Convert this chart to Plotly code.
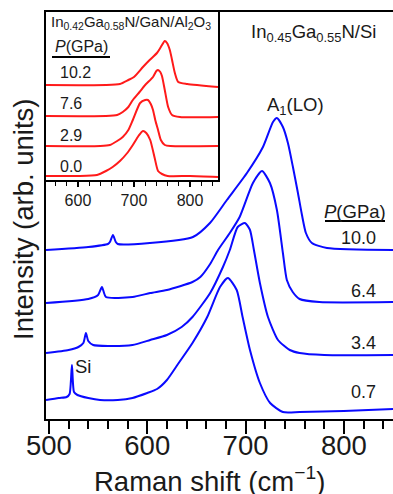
import plotly.graph_objects as go

# ---------------- main spectra: In0.45Ga0.55N/Si (blue) ----------------
x_07 = [497, 510, 518, 521, 523.4, 525.5, 529, 540, 552, 570, 585, 600, 610, 620, 632, 646, 661, 674, 682, 691, 697, 704.5, 714.6, 725, 738, 755, 800, 850]
y_07 = [19, 21, 22, 25, 54, 27, 24, 21, 19, 19, 21, 26, 30, 39, 56, 76, 102, 132, 141, 129, 102, 69, 36, 16, 7, 7, 8, 10]

x_34 = [497, 520, 530, 535, 537.6, 540, 545, 560, 585, 603, 620, 635, 646, 664, 677, 684, 692, 699.4, 704.5, 708.5, 714.6, 722.8, 733, 745, 755, 780, 850]
y_34 = [66, 69, 72, 76, 86, 78, 74, 73, 74, 79, 84, 92, 102, 126, 152, 169, 192, 196, 189, 169, 136, 102, 79, 69, 66, 64, 64]

x_64 = [497, 540, 550, 553.9, 558, 585, 603, 620, 646, 654, 664, 672, 684, 694, 707.5, 716.7, 724.8, 731.9, 738, 742, 748, 755, 775, 850]
y_64 = [116, 120, 124, 132, 122, 122, 126, 129, 137, 142, 155, 169, 186, 202, 236, 248, 236, 209, 166, 139, 127, 120, 117, 117]

x_100 = [497, 540, 560, 562, 565.1, 568, 570, 602.7, 646.5, 663.8, 681, 701.4, 717.7, 727.9, 731.9, 738, 743.1, 748.2, 753.3, 757.4, 761.4, 767.5, 782.8, 850]
y_100 = [169, 172, 175, 177, 184, 177, 175, 176, 182, 196, 219, 246, 272, 297, 301, 292, 276, 252, 226, 204, 186, 176, 171, 169]

main_x = [x_07, x_34, x_64, x_100]
main_y = [y_07, y_34, y_64, y_100]
main_labels = ["0.7", "3.4", "6.4", "10.0"]

# ---------------- inset spectra: In0.42Ga0.58N/GaN/Al2O3 (red) ----------------
xi_00 = [543, 600, 634, 650, 662, 675, 688, 698, 708, 716, 722, 729, 737, 743, 750, 760, 800, 850]
yi_00 = [4, 4, 5, 9, 13, 19, 27, 35, 44, 49, 47, 40, 22, 9, 6, 4, 4, 3]

xi_29 = [543, 640, 657, 670, 680, 690, 698, 711, 720, 725, 730, 734, 738, 743, 748, 755, 765, 850]
yi_29 = [34, 34, 35, 39, 43, 50, 60, 77, 80, 80, 76, 70, 60, 50, 40, 35, 34, 34]

xi_76 = [543, 650, 670, 680, 690, 698, 710, 720, 734, 740, 743, 747, 750, 755, 761, 768, 782, 850]
yi_76 = [64, 64, 65, 68, 73, 80, 88, 95, 103, 109, 110, 108, 104, 90, 73, 65, 63, 63]

xi_102 = [543, 650, 675, 690, 700, 716, 728, 741, 748, 755, 759, 764, 768, 773, 779, 795, 850]
yi_102 = [95, 95, 96, 100, 103, 113, 120, 127, 133, 139, 137, 130, 120, 107, 98, 96, 93]

inset_x = [xi_00, xi_29, xi_76, xi_102]
inset_y = [yi_00, yi_29, yi_76, yi_102]
inset_labels = ["0.0", "2.9", "7.6", "10.2"]

BLUE = "#0a0aff"
RED = "#ff1a1a"
FONT = "Liberation Sans, Arial, Helvetica, sans-serif"

fig = go.Figure()
for xs, ys in zip(main_x, main_y):
    fig.add_trace(go.Scatter(x=xs, y=ys, mode="lines",
                             line=dict(color=BLUE, width=2, shape="spline", smoothing=0.6),
                             xaxis="x", yaxis="y", showlegend=False, hoverinfo="skip"))
for xs, ys in zip(inset_x, inset_y):
    fig.add_trace(go.Scatter(x=xs, y=ys, mode="lines",
                             line=dict(color=RED, width=2, shape="spline", smoothing=0.6),
                             xaxis="x2", yaxis="y2", showlegend=False, hoverinfo="skip"))

W, H = 393, 494
L, R, T, B = 46, 0, 12, 75
pw, ph = W - L - R, H - T - B


def px(xp):
    return (xp - L) / pw


def py(yp):
    return (H - B - yp) / ph


inset_right = 218
inset_bottom = 180

fig.update_layout(
    width=W, height=H,
    margin=dict(l=L, r=R, t=T, b=B),
    paper_bgcolor="white", plot_bgcolor="white",
    font=dict(family=FONT, color="#1a1a1a"),
    xaxis=dict(range=[497, 850], domain=[0, 1], showgrid=False, zeroline=False,
               showline=True, linewidth=2, linecolor="black", mirror=True,
               ticks="outside", ticklen=13, tickwidth=2, tickcolor="black",
               ticklabelstandoff=-12,
               tickvals=[500, 600, 700, 800], tickfont=dict(size=27.5, family=FONT),
               minor=dict(dtick=20, ticklen=8, tickwidth=1.6, tickcolor="black", ticks="outside")),
    yaxis=dict(range=[0, 407], domain=[0, 1], showgrid=False, zeroline=False,
               showline=True, linewidth=2, linecolor="black", mirror=False,
               showticklabels=False, ticks=""),
    xaxis2=dict(range=[543, 850], domain=[0, px(inset_right)], anchor="y2",
                showgrid=False, zeroline=False, showline=True, linewidth=2,
                linecolor="black", mirror=True, ticks="outside", ticklen=5, tickwidth=1.5,
                tickcolor="black", tickvals=[600, 700, 800],
                tickfont=dict(size=16, family=FONT),
                minor=dict(dtick=20, ticklen=4, tickwidth=1.3, tickcolor="black", ticks="outside")),
    yaxis2=dict(range=[0, 168], domain=[py(inset_bottom), 1], anchor="x2",
                showgrid=False, zeroline=False, showline=True, linewidth=2,
                linecolor="black", mirror=True, showticklabels=False, ticks=""),
)

ann = []


def add(text, x, y, size, xanchor="center", yanchor="middle", angle=0):
    ann.append(dict(text=text, x=px(x), y=py(y), xref="paper", yref="paper",
                    xanchor=xanchor, yanchor=yanchor, showarrow=False, textangle=angle,
                    font=dict(size=size, family=FONT, color="#1a1a1a")))


add("Raman shift (cm<sup>−1</sup>)", 209, 479, 27.5)
add("Intensity (arb. units)", 23, 220, 27.5, angle=-90)
add("In<sub>0.45</sub>Ga<sub>0.55</sub>N/Si", 313, 33, 18.5)
add("A<sub>1</sub>(LO)", 295, 106, 18.5)
add("Si", 83, 366, 18.5)
add("<i>P</i>(GPa)", 355, 212, 18.5)
main_label_y = [392, 343, 291, 238]
for lab, yy in zip(main_labels, main_label_y):
    add(lab, 378, yy, 18, xanchor="right")

add("In<sub>0.42</sub>Ga<sub>0.58</sub>N/GaN/Al<sub>2</sub>O<sub>3</sub>", 49, 23, 15, xanchor="left")
add("<i>P</i>(GPa)", 81, 47, 16)
inset_label_y = [166, 135, 104, 73]
for lab, yy in zip(inset_labels, inset_label_y):
    add(lab, 58, yy, 16, xanchor="left")

fig.update_layout(annotations=ann)

fig.update_layout(shapes=[
    dict(type="line", xref="paper", yref="paper", x0=px(325), x1=px(385), y0=py(221), y1=py(221),
         line=dict(color="black", width=2)),
    dict(type="line", xref="paper", yref="paper", x0=px(52), x1=px(110), y0=py(57), y1=py(57),
         line=dict(color="black", width=2)),
])

fig.write_html("out.html", config={"displayModeBar": False},
               post_script="document.body.style.margin='0';document.body.style.overflow='hidden';")
